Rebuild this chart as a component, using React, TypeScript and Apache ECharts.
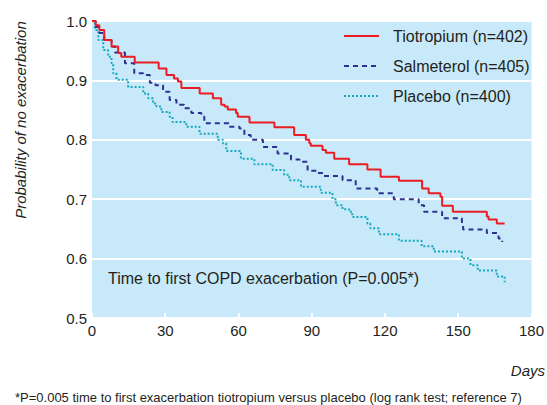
import React, { useEffect, useRef } from "react";
import * as echarts from "echarts";

const seriesNames = ["Tiotropium (n=402)", "Salmeterol (n=405)", "Placebo (n=400)"];

const tiotropium: [number, number][] = [
  [0, 1.0], [1.5, 0.993], [3, 0.985], [5, 0.968], [8, 0.957], [10.7, 0.946], [12, 0.94],
  [17.5, 0.93], [27.3, 0.92], [30.5, 0.909], [33.6, 0.903], [35.2, 0.898], [36.6, 0.887],
  [44.1, 0.878], [49.5, 0.87], [52.9, 0.859], [54.3, 0.856], [55.6, 0.851], [59, 0.845],
  [59.7, 0.839], [64.5, 0.829], [74.7, 0.821], [82.8, 0.808], [87.6, 0.8], [89, 0.794],
  [89.6, 0.79], [94.4, 0.783], [95.8, 0.778], [99.2, 0.768], [105.3, 0.759], [112.8, 0.75],
  [118.2, 0.738], [125.7, 0.731], [135.2, 0.718], [137.9, 0.71], [142.7, 0.704],
  [143.4, 0.689], [147.8, 0.679], [161.7, 0.671], [162.4, 0.666], [165.8, 0.659], [169, 0.659],
];

const salmeterol: [number, number][] = [
  [0, 1.0], [1.5, 0.99], [3, 0.98], [5, 0.968], [8, 0.957], [9.4, 0.947], [13.5, 0.929],
  [17.3, 0.912], [21, 0.909], [23.7, 0.896], [26, 0.892], [29.1, 0.881], [31.8, 0.867],
  [34.6, 0.859], [37.7, 0.853], [40.7, 0.845], [44.8, 0.839], [46, 0.828], [56, 0.822],
  [60.4, 0.819], [62.4, 0.808], [65, 0.8], [70, 0.788], [76, 0.777], [81.5, 0.767],
  [85, 0.763], [88.3, 0.748], [92.4, 0.744], [95, 0.739], [102.6, 0.732], [108, 0.718],
  [116.8, 0.71], [123.6, 0.7], [133.8, 0.69], [136, 0.679], [143.4, 0.668], [151.5, 0.659],
  [152, 0.649], [161.7, 0.643], [166.5, 0.634], [168, 0.628],
];

const placebo: [number, number][] = [
  [0, 1.0], [0.5, 0.999], [1.2, 0.985], [2.6, 0.968], [4.6, 0.951], [6.6, 0.94], [8, 0.929],
  [8.7, 0.912], [10, 0.901], [14.8, 0.889], [21, 0.878], [23, 0.87], [25, 0.861],
  [26.4, 0.856], [28.4, 0.847], [31.8, 0.839], [33, 0.83], [38.6, 0.822], [44, 0.81],
  [51.5, 0.8], [53.6, 0.794], [55, 0.781], [61, 0.768], [66.5, 0.759], [74, 0.749],
  [78.7, 0.741], [80.8, 0.732], [85.6, 0.721], [93.7, 0.711], [98.5, 0.7], [99.9, 0.69],
  [102.6, 0.683], [105.3, 0.679], [106.6, 0.67], [112.8, 0.659], [114, 0.651], [117.5, 0.641],
  [125.7, 0.63], [135, 0.621], [140, 0.612], [151.5, 0.6], [155, 0.589], [158, 0.58],
  [165.8, 0.57], [169, 0.56],
];

const FONT = "'Liberation Sans', Arial, Helvetica, sans-serif";
const TEXT = "#231f20";

export default function App() {
  const ref = useRef<HTMLDivElement>(null);
  useEffect(() => {
    if (!ref.current) return;
    const chart = echarts.init(ref.current, undefined, { renderer: "svg" });
    chart.setOption({
      animation: false,
      textStyle: { fontFamily: FONT },
      grid: {
        left: 92, right: 14, top: 21, bottom: 87,
        show: true, backgroundColor: "#c8e9f9", borderWidth: 0,
      },
      legend: {
        orient: "vertical",
        left: 338, top: 23,
        itemWidth: 35, itemHeight: 14, itemGap: 14,
        itemStyle: { opacity: 0, borderWidth: 0 },
        textStyle: { fontSize: 16, color: TEXT, fontFamily: FONT, padding: [0, 0, 0, 9] },
        data: seriesNames,
      },
      xAxis: {
        type: "value", min: 0, max: 180, interval: 30,
        axisLine: { show: false },
        axisTick: { show: true, inside: true, length: 5, lineStyle: { color: "#ffffff", width: 2 } },
        splitLine: { show: false },
        axisLabel: { fontSize: 15, color: TEXT, margin: 5, fontFamily: FONT },
      },
      yAxis: {
        type: "value", min: 0.5, max: 1.0, interval: 0.1,
        axisLine: { show: false },
        axisTick: { show: false },
        splitLine: { show: true, lineStyle: { color: "#ffffff", width: 2 } },
        axisLabel: {
          fontSize: 15, color: TEXT, margin: 5, fontFamily: FONT,
          formatter: (v: number) => v.toFixed(1),
        },
      },
      series: [
        {
          name: seriesNames[0], type: "line", step: "end", symbol: "none", data: tiotropium,
          lineStyle: { color: "#ec1c24", width: 2 }, itemStyle: { color: "#ec1c24" }, z: 4,
        },
        {
          name: seriesNames[1], type: "line", step: "end", symbol: "none", data: salmeterol,
          lineStyle: { color: "#2e3192", width: 2, type: [5, 4] }, itemStyle: { color: "#2e3192" }, z: 3,
        },
        {
          name: seriesNames[2], type: "line", step: "end", symbol: "none", data: placebo,
          lineStyle: { color: "#16a8bf", width: 2, type: [2, 2] }, itemStyle: { color: "#16a8bf" }, z: 2,
        },
      ],
      graphic: [
        {
          type: "text", x: 20, y: 120, rotation: Math.PI / 2,
          style: {
            text: "Probability of no exacerbation", fontSize: 15, fontStyle: "italic",
            fill: TEXT, fontFamily: FONT, align: "center", verticalAlign: "middle",
          },
        },
        {
          type: "text", x: 108, y: 278,
          style: {
            text: "Time to first COPD exacerbation (P=0.005*)", fontSize: 16,
            fill: TEXT, fontFamily: FONT, align: "left", verticalAlign: "middle",
          },
        },
        {
          type: "text", x: 545, y: 370,
          style: {
            text: "Days", fontSize: 15, fontStyle: "italic",
            fill: TEXT, fontFamily: FONT, align: "right", verticalAlign: "middle",
          },
        },
        {
          type: "text", x: 15, y: 397,
          style: {
            text: "*P=0.005 time to first exacerbation tiotropium versus placebo (log rank test; reference 7)",
            fontSize: 13, fill: TEXT, fontFamily: FONT, align: "left", verticalAlign: "middle",
          },
        },
      ],
    });
    return () => chart.dispose();
  }, []);
  return <div ref={ref} style={{ width: 547, height: 405, position: "absolute", left: 0, top: 0 }} />;
}
